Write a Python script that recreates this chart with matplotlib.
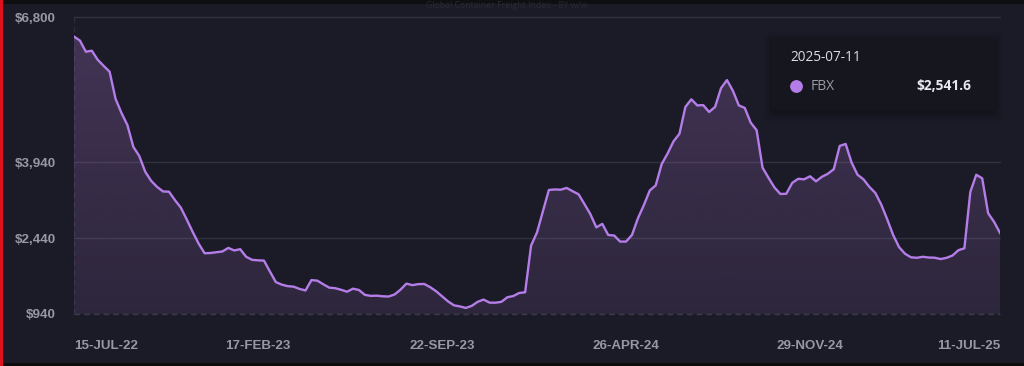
"""
FBX global container freight index, weekly, Jul 2022 - Jul 2025 (dark dashboard style).
"""

import matplotlib.pyplot as plt
import numpy as np
import pandas as pd
from matplotlib.colors import to_rgb
from matplotlib.patches import FancyBboxPatch, PathPatch, Rectangle

# Weekly FBX values (USD / FEU)
start_date = "2022-07-15"
fbx = [
    6420, 6340, 6120, 6140, 5960, 5840, 5725, 5190, 4910, 4670,
    4240, 4060, 3750, 3570, 3450, 3360, 3356, 3190, 3040, 2805,
    2560, 2330, 2140, 2145, 2160, 2175, 2245, 2195, 2220, 2070,
    2010, 2000, 1995, 1780, 1570, 1520, 1490, 1480, 1435, 1405,
    1610, 1598, 1527, 1460, 1450, 1418, 1380, 1440, 1414, 1318,
    1298, 1302, 1290, 1285, 1325, 1420, 1540, 1510, 1530, 1533,
    1470, 1390, 1290, 1190, 1112, 1090, 1060, 1100, 1180, 1225,
    1165, 1163, 1180, 1270, 1295, 1355, 1369, 2290, 2550, 2970,
    3390, 3400, 3395, 3430, 3365, 3305, 3110, 2910, 2650, 2720,
    2500, 2490, 2370, 2370, 2500, 2830, 3090, 3380, 3480, 3900,
    4110, 4350, 4500, 5030, 5180, 5060, 5065, 4930, 5030, 5400,
    5560, 5350, 5060, 5010, 4720, 4570, 3830, 3630, 3440, 3310,
    3315, 3530, 3610, 3600, 3660, 3560, 3650, 3710, 3800, 4260,
    4298, 3930, 3690, 3600, 3450, 3330, 3100, 2810, 2500, 2260,
    2130, 2060, 2050, 2070, 2055, 2052, 2025, 2050, 2095, 2200,
    2238, 3350, 3690, 3620, 2930, 2760, 2541.6,
]

x_tick_dates = ["2022-07-15", "2023-02-17", "2023-09-22",
                "2024-04-26", "2024-11-29", "2025-07-11"]
x_tick_labels = ["15-JUL-22", "17-FEB-23", "22-SEP-23",
                 "26-APR-24", "29-NOV-24", "11-JUL-25"]
y_ticks = [940, 2440, 3940, 6800]
y_tick_labels = ["$940", "$2,440", "$3,940", "$6,800"]

title = "Global Container Freight Index - 8Y w/w"
tooltip_date = "2025-07-11"
tooltip_series = "FBX"
tooltip_value = "$2,541.6"

BG = "#1b1b27"
LINE = "#b47de8"
GRID = "#30303f"
LABEL = "#9898a4"

W, H = 1024, 366


def px(x, y):
    """pixel position (from top-left) -> figure fraction"""
    return x / W, 1 - y / H


def main() -> None:
    dates = pd.date_range(start_date, periods=len(fbx), freq="7D")
    values = np.array(fbx, dtype=float)

    fig = plt.figure(figsize=(W / 100, H / 100), dpi=100, facecolor=BG)

    # screenshot frame: dark strips top / bottom, red edge on the left
    fig.patches.append(Rectangle(px(0, 4.3), 1, 4.3 / H, transform=fig.transFigure,
                                 facecolor="#0f0f12", edgecolor="none", zorder=0))
    fig.patches.append(Rectangle((0, 0), 1, 3.5 / H, transform=fig.transFigure,
                                 facecolor="#0c0c0e", edgecolor="none", zorder=0))
    fig.patches.append(Rectangle((0, 0), 2.5 / W, 1, transform=fig.transFigure,
                                 facecolor="#e0101c", edgecolor="none", zorder=5))
    # faint header of the original page, squeezed into the top strip
    fig.text(*px(507, 7.8), title, ha="center", va="baseline", fontsize=6.3,
             family="Open Sans", color="#292932")

    ax = fig.add_axes([74 / W, 52 / H, 926 / W, (314 - 17.3) / H])
    ax.set_facecolor(BG)
    for s in ax.spines.values():
        s.set_visible(False)

    ax.set_xlim(dates[0], dates[-1])
    ax.set_ylim(y_ticks[0], y_ticks[-1])

    # horizontal grid; the baseline one is dashed
    for yv in y_ticks:
        if yv == y_ticks[0]:
            ax.axhline(yv, color="#3a3a4b", lw=1, ls=(0, (4, 3)), zorder=1, clip_on=False)
        else:
            ax.axhline(yv, color=GRID, lw=1, zorder=1, clip_on=False)
    ax.axvline(dates[0], color="#2c2c3a", lw=1, ls=(0, (4, 3)), zorder=1)

    # gradient area under the line, clipped to the filled shape
    area = ax.fill_between(dates, values, y_ticks[0], facecolor="none", edgecolor="none")
    clip = PathPatch(area.get_paths()[0], transform=ax.transData,
                     facecolor="none", edgecolor="none")
    ax.add_patch(clip)
    grad = np.zeros((256, 1, 4))
    grad[..., :3] = to_rgb("#b47ad8")
    grad[..., 3] = np.linspace(0.12, 0.27, 256)[:, None]
    xnum = ax.get_xlim()
    im = ax.imshow(grad, extent=[xnum[0], xnum[1], y_ticks[0], y_ticks[-1]],
                   origin="lower", aspect="auto", zorder=2, interpolation="bilinear")
    im.set_clip_path(clip)

    ax.plot(dates, values, color=LINE, lw=1.7, zorder=3, solid_joinstyle="round")

    ax.set_xlim(dates[0], dates[-1])
    ax.set_ylim(y_ticks[0], y_ticks[-1])

    ax.set_yticks(y_ticks)
    ax.set_yticklabels(y_tick_labels)
    ax.set_xticks(pd.to_datetime(x_tick_dates))
    ax.set_xticklabels(x_tick_labels)
    ax.tick_params(axis="y", length=0, pad=13.2, labelsize=9.6, labelcolor=LABEL)
    ax.tick_params(axis="x", length=0, pad=18.5, labelsize=9.6, labelcolor=LABEL)
    for lab in ax.get_xticklabels() + ax.get_yticklabels():
        lab.set_fontfamily("Liberation Sans")
        lab.set_fontweight("bold")
    xl = ax.get_xticklabels()
    xl[0].set_horizontalalignment("left")
    xl[-1].set_horizontalalignment("right")

    # tooltip box with a soft shadow
    bx0, by0, bx1, by1 = 772, 38, 995, 110
    for grow, alpha in [(8, 0.05), (5, 0.08), (2, 0.12)]:
        fig.patches.append(FancyBboxPatch(
            px(bx0 - grow, by1 + grow + 3), (bx1 - bx0 + 2 * grow) / W,
            (by1 - by0 + 2 * grow) / H, boxstyle="round,pad=0,rounding_size=0.006",
            transform=fig.transFigure, facecolor="black", edgecolor="none",
            alpha=alpha, zorder=6))
    fig.patches.append(FancyBboxPatch(
        px(bx0, by1), (bx1 - bx0) / W, (by1 - by0) / H,
        boxstyle="round,pad=0,rounding_size=0.004", transform=fig.transFigure,
        facecolor="#16161f", edgecolor="none", zorder=7))
    fig.text(*px(790, 57.5), tooltip_date, ha="left", va="center", fontsize=9.8,
             family="Open Sans", color="#dcdce2", zorder=8)
    fig.lines.append(plt.Line2D([796 / W], [1 - 86 / H], marker="o", markersize=8.2,
                                color=LINE, transform=fig.transFigure, zorder=8))
    fig.text(*px(811, 86), tooltip_series, ha="left", va="center", fontsize=10,
             family="Open Sans", color="#9a9aa6", zorder=8)
    fig.text(*px(971, 86), tooltip_value, ha="right", va="center", fontsize=9.9,
             family="Open Sans", fontweight="bold", color="#e8e8ee", zorder=8)

    fig.savefig("out.png", dpi=100, facecolor=BG)
    plt.close(fig)


if __name__ == "__main__":
    main()
